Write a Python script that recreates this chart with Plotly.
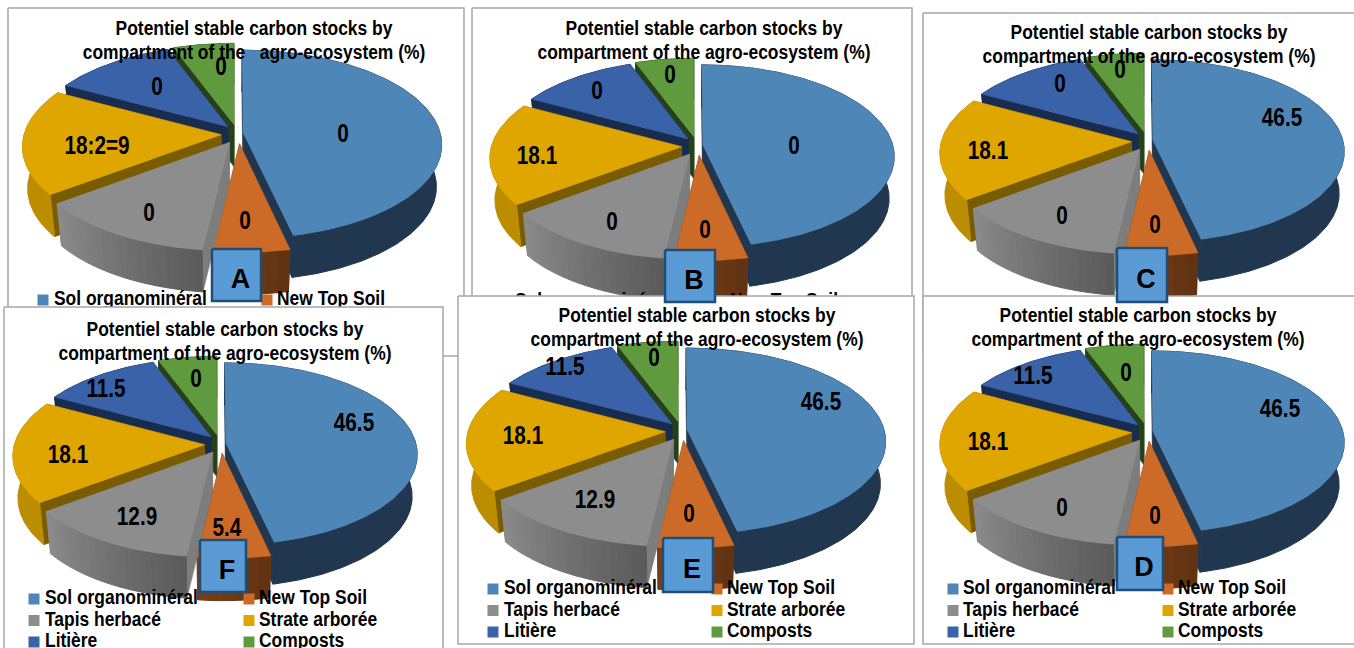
import math

import plotly.graph_objects as go

# slice shares are the same in all six charts, only the printed labels change
compartments = ["Sol organominéral", "New Top Soil", "Tapis herbacé", "Strate arborée", "Litière", "Composts"]
shares = [46.5, 5.4, 12.9, 18.1, 11.5, 5.6]

labels_a = ["0", "0", "0", "18:2=9", "0", "0"]
labels_b = ["0", "0", "0", "18.1", "0", "0"]
labels_c = ["46.5", "0", "0", "18.1", "0", "0"]
labels_f = ["46.5", "5.4", "12.9", "18.1", "11.5", "0"]
labels_e = ["46.5", "0", "12.9", "18.1", "11.5", "0"]
labels_d = ["46.5", "0", "0", "18.1", "11.5", "0"]

title_line1 = "Potentiel stable carbon stocks by"
title_line2 = "compartment of the agro-ecosystem (%)"
title_line2_a = "compartment of the\u00a0\u00a0\u00a0agro-ecosystem (%)"

# colours: top, cut face, wall left, wall right, number of wall strips
COLORS = [
    ("#4e86b8", "#20374f", "#20374f", "#20374f", 1),
    ("#cc6b28", "#6a3513", "#7a3e17", "#5f3313", 6),
    ("#8d8d8d", "#7d7d7d", "#8c8c8c", "#5a5a5a", 24),
    ("#e0a600", "#7a5c00", "#c09000", "#b88a00", 1),
    ("#3a62a8", "#182c50", "#182c50", "#182c50", 1),
    ("#5f9a3e", "#26401a", "#26401a", "#26401a", 1),
]
DRAW_ORDER = [5, 4, 3, 2, 0, 1]

TILT = 0.12
EXPLODE_X = 0.055
EXPLODE_Y = 0.105
# the slices are not pulled out evenly, small sideways correction per slice
NUDGE_X = [0.003, 0.035, 0.015, 0.0, 0.015, 0.02]
DEPTH = 42
FONT = "Liberation Sans"

PANELS = [
    dict(name="A", labels=labels_a, line2=title_line2_a, box=(8, 8, 464, 356), c=(232, 134), r=(197, 93),
         title=(254, 42), badge=(212, 249, 261, 301),
         pos=[(343, 136), (245, 223), (149, 215), (97, 148), (157, 89), (221, 69)],
         legend=(43, 54, 267, 277, 300)),
    dict(name="B", labels=labels_b, line2=title_line2, box=(472, 8, 912, 350), c=(692, 146), r=(190, 90),
         title=(704, 42), badge=(665, 250, 715, 302),
         pos=[(794, 148), (705, 232), (612, 224), (537, 158), (597, 93), (670, 77)],
         legend=(504, 515, 720, 730, 302)),
    dict(name="C", labels=labels_c, line2=title_line2, box=(923, 13, 1360, 350), c=(1142, 141), r=(190, 90),
         title=(1149, 46), badge=(1117, 248, 1167, 302),
         pos=[(1282, 120), (1155, 227), (1062, 218), (988, 153), (1060, 86), (1120, 72)],
         legend=(953, 963, 1168, 1178, 308)),
    dict(name="F", labels=labels_f, line2=title_line2, box=(4, 307, 443, 670), c=(215, 444), r=(190, 90),
         title=(225, 343), badge=(200, 540, 246, 592),
         pos=[(354, 425), (227, 530), (137, 519), (68, 457), (106, 391), (196, 381)],
         legend=(34, 45, 249, 259, 599)),
    dict(name="E", labels=labels_e, line2=title_line2, box=(458, 296, 914, 644), c=(676, 431), r=(197, 92),
         title=(697, 329), badge=(663, 538, 713, 592),
         pos=[(821, 404), (689, 516), (595, 502), (523, 438), (565, 369), (654, 360)],
         legend=(493, 504, 717, 727, 589)),
    dict(name="D", labels=labels_d, line2=title_line2, box=(923, 296, 1360, 644), c=(1142, 432), r=(190, 90),
         title=(1138, 329), badge=(1117, 537, 1163, 590),
         pos=[(1280, 411), (1155, 518), (1062, 510), (988, 444), (1033, 378), (1126, 375)],
         legend=(953, 963, 1168, 1178, 589)),
]

# no narrow font is installed, so the bold text is squeezed after drawing (the badge letters stay wide)
SQUEEZE_TEXT = """
document.body.style.margin = '0';
document.body.style.overflow = 'hidden';
document.querySelectorAll('.textpoint text').forEach(function (t) {
    if (/^[A-F]$/.test(t.textContent)) return;
    var x = t.getAttribute('x');
    t.setAttribute('transform', 'translate(' + x + ' 0) scale(0.83 1) translate(' + (-x) + ' 0)');
});
"""


def project(panel, u, v, low=False):
    w = 1 - TILT * v
    sx = 0.975 if low else 1
    x = panel["c"][0] + panel["r"][0] * sx * u / w
    y = panel["c"][1] + panel["r"][1] * v / w + (DEPTH if low else 0)
    return x, y


def arc(panel, u0, v0, a0, a1, n, low=False):
    pts = []
    for i in range(n + 1):
        t = math.radians(a0 + (a1 - a0) * i / n)
        pts.append(project(panel, u0 + math.sin(t), v0 - math.cos(t), low))
    return pts


def mix(c0, c1, t):
    a = [int(c0[i:i + 2], 16) for i in (1, 3, 5)]
    b = [int(c1[i:i + 2], 16) for i in (1, 3, 5)]
    return "rgb(%d,%d,%d)" % tuple(a[i] + (b[i] - a[i]) * t for i in range(3))


def poly(fig, pts, color, line_color=None, line_width=0.6):
    xs = [p[0] for p in pts] + [pts[0][0]]
    ys = [p[1] for p in pts] + [pts[0][1]]
    fig.add_trace(go.Scatter(x=xs, y=ys, mode="lines", fill="toself", fillcolor=color,
                             line=dict(color=line_color or color, width=line_width),
                             hoverinfo="skip", showlegend=False))


def text(fig, xs, ys, strs, size, pos="middle center"):
    fig.add_trace(go.Scatter(x=xs, y=ys, mode="text", text=strs, textposition=pos,
                             textfont=dict(family=FONT, size=size, color="#000000", weight="bold"),
                             hoverinfo="skip", showlegend=False))


def draw_slice(fig, panel, i, a0, a1):
    top, face, wall0, wall1, strips = COLORS[i]
    mid = math.radians((a0 + a1) / 2)
    u0 = EXPLODE_X * math.sin(mid) + NUDGE_X[i]
    v0 = -EXPLODE_Y * math.cos(mid)
    n = max(int(a1 - a0), 4)
    apex_top = project(panel, u0, v0)
    apex_low = project(panel, u0, v0, True)
    # cut faces
    for ang in (a0, a1):
        rim_top = arc(panel, u0, v0, ang, ang, 1)[0]
        rim_low = arc(panel, u0, v0, ang, ang, 1, True)[0]
        poly(fig, [apex_top, rim_top, rim_low, apex_low], face)
    # outer wall, cut in strips where it has a gradient
    for s in range(strips):
        b0 = a0 + (a1 - a0) * s / strips
        b1 = a0 + (a1 - a0) * (s + 1) / strips
        m = max(int(n / strips), 2)
        upper = arc(panel, u0, v0, b0, b1, m)
        lower = arc(panel, u0, v0, b0, b1, m, True)
        # strips run right to left on the front of the pie
        t = 1 - (s + 0.5) / strips
        poly(fig, upper + lower[::-1], mix(wall0, wall1, t), line_width=1)
    poly(fig, [apex_top] + arc(panel, u0, v0, a0, a1, n), top)


def draw_panel(fig, panel):
    x0, y0, x1, y1 = panel["box"]
    poly(fig, [(x0, y0), (x1, y0), (x1, y1), (x0, y1)], "#ffffff", "#a6a6a6", 1.5)

    total = sum(shares)
    angles = [0]
    for v in shares:
        angles.append(angles[-1] + 360 * v / total)
    for i in DRAW_ORDER:
        draw_slice(fig, panel, i, angles[i], angles[i + 1])

    tx, ty = panel["title"]
    text(fig, [tx, tx], [ty - 12, ty + 12], [title_line1, panel["line2"]], 21)
    text(fig, [p[0] for p in panel["pos"]], [p[1] for p in panel["pos"]], panel["labels"], 25)

    # legend, two columns and three rows
    mk0, tx0, mk1, tx1, row = panel["legend"]
    mx, my, lx, ly = [], [], [], []
    for i in range(len(compartments)):
        r = row + (i // 2) * 21.5
        mx.append(mk1 if i % 2 else mk0)
        lx.append(tx1 if i % 2 else tx0)
        my.append(r)
        ly.append(r)
    fig.add_trace(go.Scatter(x=mx, y=my, mode="markers",
                             marker=dict(symbol="square", size=11, color=[c[0] for c in COLORS], line=dict(width=0)),
                             hoverinfo="skip", showlegend=False))
    text(fig, lx, ly, compartments, 21, "middle right")


fig = go.Figure()
for panel in PANELS:
    draw_panel(fig, panel)

# the letter badges sit above every panel
for panel in PANELS:
    x0, y0, x1, y1 = panel["badge"]
    poly(fig, [(x0, y0), (x1, y0), (x1, y1), (x0, y1)], "#5b9bd5", "#1f4e79", 2.5)
    text(fig, [(x0 + x1) / 2 + 4], [(y0 + y1) / 2 + 6], [panel["name"]], 27)

fig.update_xaxes(range=[0, 1354], visible=False, fixedrange=True)
fig.update_yaxes(range=[648, 0], visible=False, fixedrange=True)
fig.update_layout(width=1354, height=648, margin=dict(l=0, r=0, t=0, b=0),
                  paper_bgcolor="#ffffff", plot_bgcolor="#ffffff", showlegend=False)

fig.write_html("out.html", config=dict(displayModeBar=False), post_script=SQUEEZE_TEXT)
